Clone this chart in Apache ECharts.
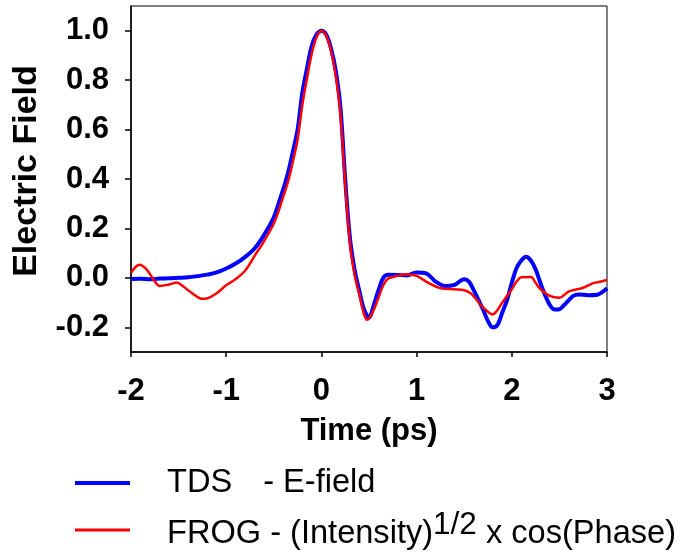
<!DOCTYPE html>
<html>
<head>
<meta charset="utf-8">
<script src="https://cdn.jsdelivr.net/npm/echarts@6/dist/echarts.min.js"></script>
<style>
  html, body { margin: 0; padding: 0; background: #fff; }
  #chart { width: 680px; height: 555px; }
</style>
</head>
<body>
<div id="chart"></div>
<script>
// TDS measured electric field (time in ps, normalised field)
const tdsTime = [-2.0, -1.9, -1.8, -1.7, -1.6, -1.5, -1.4, -1.3, -1.2, -1.1, -1.0, -0.9, -0.8, -0.7, -0.6,
  -0.5, -0.45, -0.4, -0.35, -0.3, -0.25, -0.2, -0.15, -0.1, -0.05, 0.0, 0.05, 0.1, 0.15, 0.2, 0.25,
  0.3, 0.35, 0.4, 0.45, 0.5, 0.55, 0.6, 0.65, 0.7, 0.8, 0.9, 1.0, 1.1, 1.2, 1.3, 1.4, 1.5, 1.55,
  1.6, 1.7, 1.75, 1.8, 1.85, 1.9, 1.95, 2.0, 2.05, 2.1, 2.15, 2.2, 2.25, 2.3, 2.35, 2.4, 2.45, 2.5,
  2.55, 2.6, 2.65, 2.7, 2.8, 2.9, 2.95, 3.0];
const tdsField = [-0.005, -0.004, -0.006, -0.003, -0.002, 0.0, 0.002, 0.007, 0.013, 0.022, 0.038, 0.058, 0.085, 0.12, 0.175,
  0.245, 0.3, 0.36, 0.425, 0.51, 0.6, 0.75, 0.85, 0.94, 0.985, 1.0, 0.985, 0.93, 0.84, 0.69, 0.40,
  0.16, 0.03, -0.055, -0.13, -0.16, -0.11, -0.05, 0.0, 0.013, 0.012, 0.01, 0.022, 0.018, -0.015, -0.033, -0.028, -0.006, -0.015,
  -0.05, -0.13, -0.175, -0.2, -0.19, -0.14, -0.09, -0.02, 0.04, 0.07, 0.085, 0.07, 0.035, -0.02, -0.07, -0.11, -0.128, -0.127,
  -0.11, -0.09, -0.072, -0.067, -0.07, -0.068, -0.058, -0.042];

// FROG retrieval: sqrt(intensity) x cos(phase)
const frogTime = [-2.0, -1.95, -1.91, -1.85, -1.8, -1.75, -1.7, -1.6, -1.52, -1.45, -1.4, -1.3, -1.25, -1.2, -1.1,
  -1.0, -0.9, -0.8, -0.7, -0.6, -0.5, -0.45, -0.4, -0.35, -0.3, -0.25, -0.2, -0.15, -0.1, -0.05, 0.0,
  0.05, 0.1, 0.15, 0.2, 0.25, 0.3, 0.35, 0.4, 0.45, 0.48, 0.5, 0.55, 0.6, 0.65, 0.7, 0.8, 0.9, 1.0,
  1.1, 1.2, 1.25, 1.4, 1.5, 1.56, 1.6, 1.7, 1.8, 1.85, 1.9, 2.0, 2.05, 2.1, 2.2, 2.25, 2.3, 2.4, 2.5,
  2.6, 2.7, 2.75, 2.85, 2.9, 3.0];
const frogField = [0.02, 0.045, 0.053, 0.04, 0.015, -0.015, -0.033, -0.027, -0.019, -0.035, -0.05, -0.078, -0.085, -0.083, -0.062,
  -0.03, -0.005, 0.03, 0.09, 0.15, 0.22, 0.27, 0.33, 0.39, 0.47, 0.56, 0.70, 0.81, 0.91, 0.975, 1.0,
  0.98, 0.92, 0.82, 0.66, 0.38, 0.14, 0.01, -0.07, -0.15, -0.17, -0.165, -0.13, -0.08, -0.03, -0.003, 0.008, 0.015, 0.008,
  -0.015, -0.035, -0.042, -0.046, -0.05, -0.06, -0.075, -0.12, -0.148, -0.13, -0.10, -0.046, -0.015, 0.002, 0.003, -0.02, -0.045, -0.073, -0.08,
  -0.055, -0.045, -0.04, -0.022, -0.018, -0.009];

const timeTicks = [-2, -1, 0, 1, 2, 3];
const fieldTicks = [-0.2, 0.0, 0.2, 0.4, 0.6, 0.8, 1.0];

const seriesNames = ['TDS', 'FROG'];

const pairs = (xs, ys) => xs.map((x, i) => [x, ys[i]]);

const FONT = 'Liberation Sans, Arial, sans-serif';
const LEGEND_SIZE = 32.6;

const richText = {
  t: { fontFamily: FONT, fontSize: LEGEND_SIZE, color: '#000', verticalAlign: 'bottom', lineHeight: 34 },
  g: { fontFamily: FONT, fontSize: LEGEND_SIZE, color: '#000', verticalAlign: 'bottom', lineHeight: 34, padding: [0, 0, 0, 31] },
  s: { fontFamily: FONT, fontSize: 31.5, color: '#000', verticalAlign: 'top', lineHeight: 42, padding: [0, 0, 6, 0] }
};

// one legend block per row, so each row can sit at its own height
const legendRow = (name, top) => ({
  orient: 'horizontal',
  left: 75,
  top: top,
  padding: 0,
  itemWidth: 55,
  itemHeight: name === 'TDS' ? 4 : 3,
  icon: 'rect',
  data: [name],
  selectedMode: false,
  formatter: n => n === 'TDS'
    ? '{t|TDS}{g|- E-field}'
    : '{t|FROG - (Intensity)}{s|1/2}{t| x cos(Phase)}',
  textStyle: {
    fontFamily: FONT,
    fontSize: LEGEND_SIZE,
    color: '#000',
    padding: [0, 0, 0, 32],
    rich: richText
  }
});

const chart = echarts.init(document.getElementById('chart'), null, { renderer: 'canvas' });

chart.setOption({
  animation: false,
  backgroundColor: '#ffffff',
  grid: {
    left: 131, top: 6, right: 73, bottom: 203,
    show: true, borderColor: '#000', borderWidth: 1, backgroundColor: 'transparent'
  },
  xAxis: {
    type: 'value',
    min: timeTicks[0],
    max: timeTicks[timeTicks.length - 1],
    interval: 1,
    name: 'Time (ps)',
    nameLocation: 'middle',
    nameGap: 64,
    nameTextStyle: { fontFamily: FONT, fontWeight: 'bold', fontSize: 31, color: '#000' },
    axisLine: { onZero: false, lineStyle: { color: '#000', width: 1.5 } },
    axisTick: { show: true, length: 5, lineStyle: { color: '#000', width: 1.5 } },
    axisLabel: { fontFamily: FONT, fontWeight: 'bold', fontSize: 31, color: '#000', margin: 24 },
    splitLine: { show: false }
  },
  yAxis: {
    type: 'value',
    min: -0.3,
    max: 1.1,
    name: 'Electric Field',
    nameLocation: 'middle',
    nameRotate: 90,
    nameGap: 87,
    nameTextStyle: { fontFamily: FONT, fontWeight: 'bold', fontSize: 34, color: '#000', padding: [0, 0, 0, 16] },
    axisLine: { show: true, onZero: false, lineStyle: { color: '#000', width: 1.5 } },
    axisTick: { show: true, length: 6, customValues: fieldTicks, lineStyle: { color: '#000', width: 1.5 } },
    axisLabel: {
      customValues: fieldTicks,
      fontFamily: FONT, fontWeight: 'bold', fontSize: 31, color: '#000', margin: 22,
      formatter: v => v.toFixed(1)
    },
    splitLine: { show: false }
  },
  legend: [
    legendRow(seriesNames[0], 467),
    legendRow(seriesNames[1], 509)
  ],
  series: [
    {
      name: seriesNames[0],
      type: 'line',
      data: pairs(tdsTime, tdsField),
      showSymbol: false,
      smooth: 0.35,
      lineStyle: { color: '#0000ff', width: 4 },
      itemStyle: { color: '#0000ff' },
      z: 2
    },
    {
      name: seriesNames[1],
      type: 'line',
      data: pairs(frogTime, frogField),
      showSymbol: false,
      smooth: 0.35,
      lineStyle: { color: '#ff0000', width: 2.5 },
      itemStyle: { color: '#ff0000' },
      z: 3
    }
  ]
});
</script>
</body>
</html>
